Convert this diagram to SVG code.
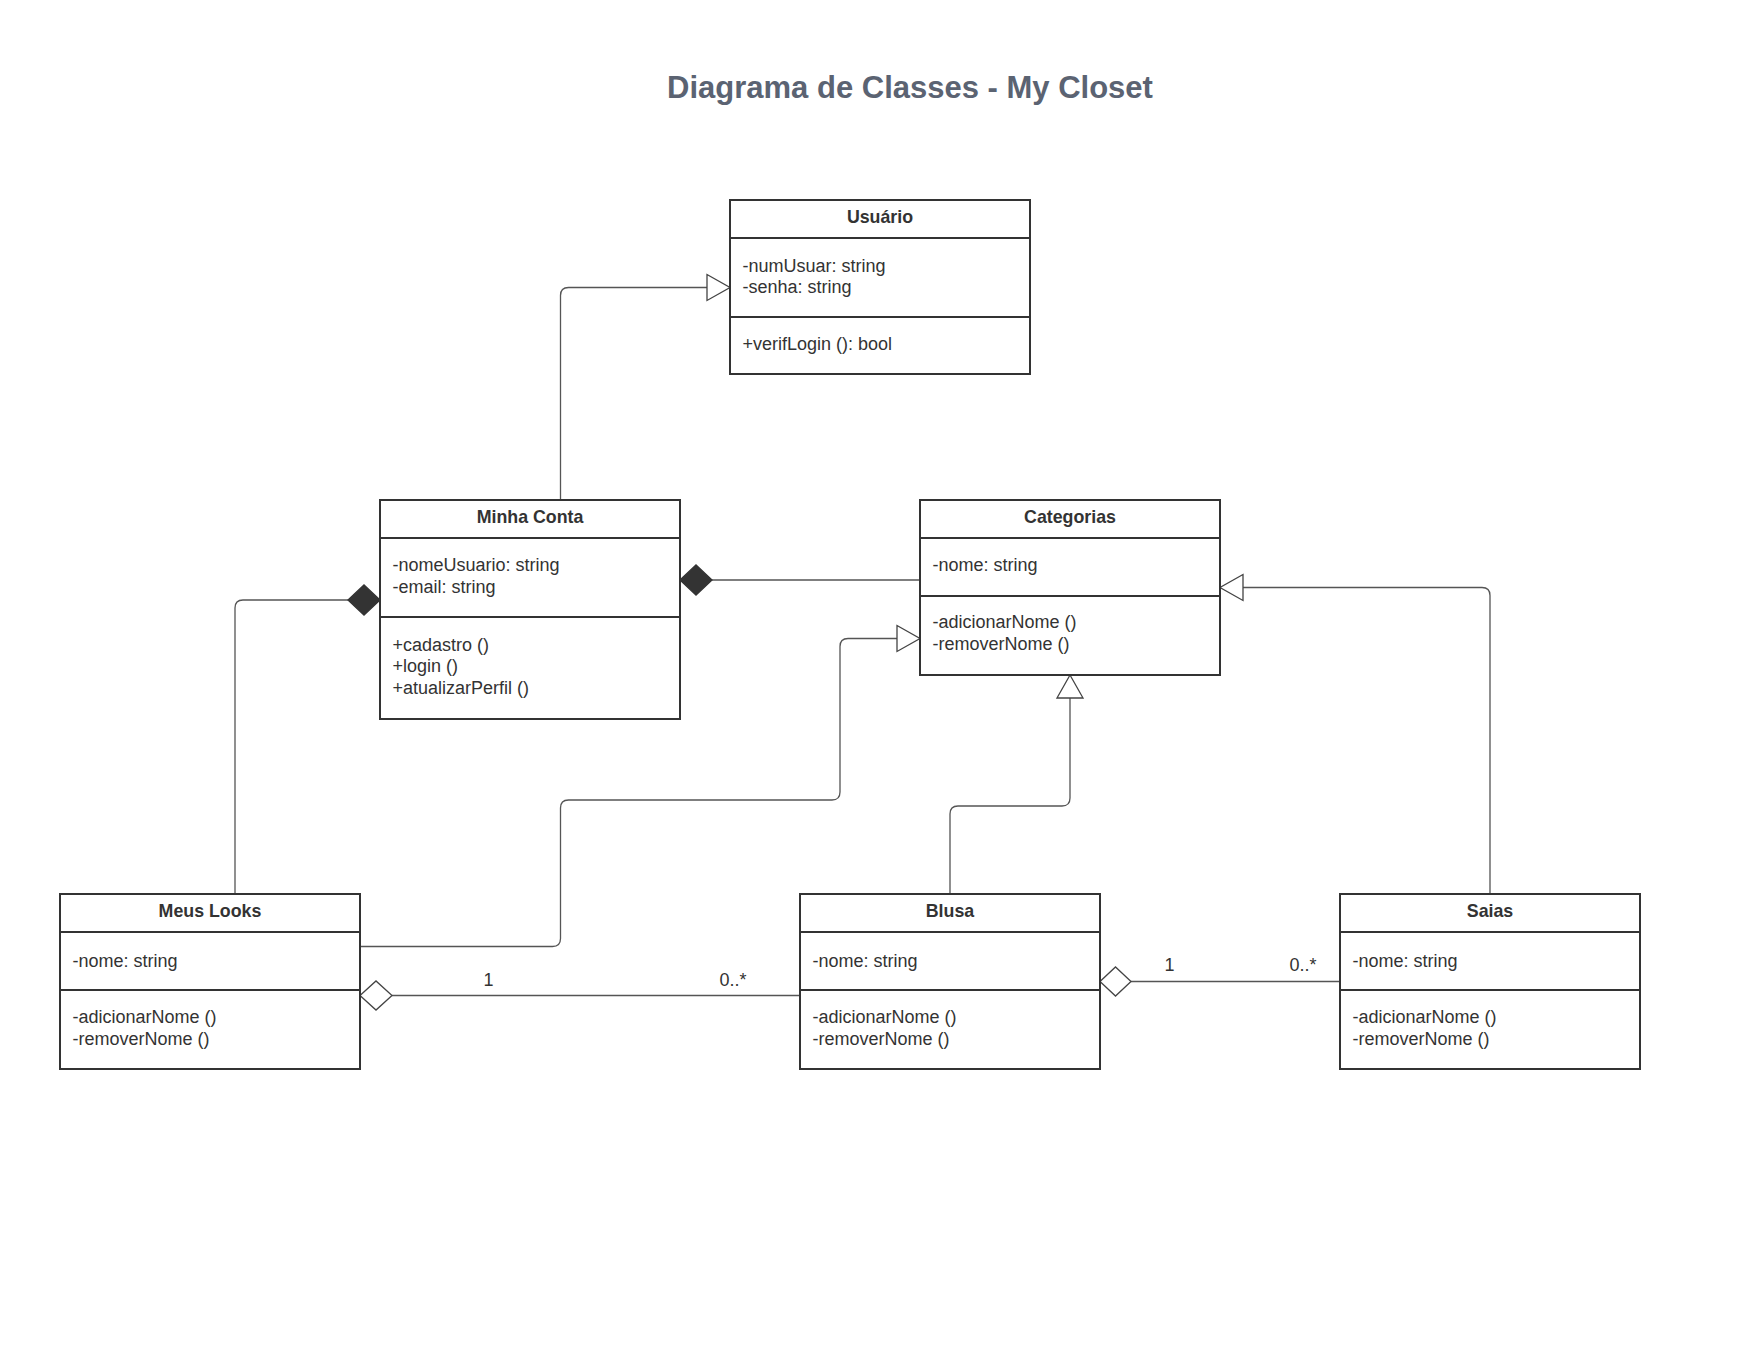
<svg xmlns="http://www.w3.org/2000/svg" width="1760" height="1360" viewBox="0 0 1760 1360">
<style>
.box{fill:#ffffff;stroke:#333333;stroke-width:2}
.div{stroke:#333333;stroke-width:2}
.t{font-family:"Liberation Sans",Arial,sans-serif;font-size:18px;fill:#333333}
.h{font-family:"Liberation Sans",Arial,sans-serif;font-size:17.8px;font-weight:bold;fill:#333333;text-anchor:middle}
.lbl{font-family:"Liberation Sans",Arial,sans-serif;font-size:18px;fill:#333333;text-anchor:middle}
.ln{fill:none;stroke:#555555;stroke-width:1.3}
.tri{fill:#ffffff;stroke:#444444;stroke-width:1.3}
.dfill{fill:#333333;stroke:#333333;stroke-width:1.3}
.dhol{fill:#ffffff;stroke:#444444;stroke-width:1.3}
.title{font-family:"Liberation Sans",Arial,sans-serif;font-size:31px;font-weight:bold;fill:#5b6372;text-anchor:middle}
</style>
<rect width="1760" height="1360" fill="#ffffff"/>
<text class="title" x="910" y="97.5">Diagrama de Classes - My Closet</text>

<g id="connectors">
  <!-- Minha Conta -> Usuario (generalization) -->
  <path class="ln" d="M560.5,500 V295.5 Q560.5,287.5 568.5,287.5 H707"/>
  <polygon class="tri" points="707,274.5 730,287.5 707,300.5"/>
  <!-- Minha Conta <>- Categorias (composition) -->
  <path class="ln" d="M712,580 H920"/>
  <polygon class="dfill" points="680,580 696,565 712,580 696,595"/>
  <!-- Minha Conta <>- Meus Looks (composition) -->
  <path class="ln" d="M235,894 V608 Q235,600 243,600 H348"/>
  <polygon class="dfill" points="380,600 364,585 348,600 364,615"/>
  <!-- Meus Looks -> Categorias (generalization) -->
  <path class="ln" d="M360,946.5 H552.5 Q560.5,946.5 560.5,938.5 V808 Q560.5,800 568.5,800 H832 Q840,800 840,792 V646.5 Q840,638.5 848,638.5 H897"/>
  <polygon class="tri" points="897,625.5 920,638.5 897,651.5"/>
  <!-- Blusa -> Categorias (generalization) -->
  <path class="ln" d="M950,894 V814 Q950,806 958,806 H1062 Q1070,806 1070,798 V698"/>
  <polygon class="tri" points="1057,698 1070,675 1083,698"/>
  <!-- Saias -> Categorias (generalization) -->
  <path class="ln" d="M1490,894 V595.5 Q1490,587.5 1482,587.5 H1243"/>
  <polygon class="tri" points="1243,574.5 1220,587.5 1243,600.5"/>
  <!-- Meus Looks <>- Blusa (aggregation) -->
  <path class="ln" d="M392,995.5 H800"/>
  <polygon class="dhol" points="360,995.5 376,981 392,995.5 376,1010"/>
  <text class="lbl" x="488.5" y="985.5">1</text>
  <text class="lbl" x="733" y="985.5">0..*</text>
  <!-- Blusa <>- Saias (aggregation) -->
  <path class="ln" d="M1131,981.5 H1340"/>
  <polygon class="dhol" points="1100,981.5 1115.5,967 1131,981.5 1115.5,996"/>
  <text class="lbl" x="1169.5" y="970.5">1</text>
  <text class="lbl" x="1303" y="970.5">0..*</text>
</g>

<g id="usuario">
  <rect class="box" x="730" y="200" width="300" height="174"/>
  <line class="div" x1="730" y1="238" x2="1030" y2="238"/>
  <line class="div" x1="730" y1="317" x2="1030" y2="317"/>
  <text class="h" x="880" y="223">Usuário</text>
  <text class="t" x="742.5" y="271.5">-numUsuar: string</text>
  <text class="t" x="742.5" y="293">-senha: string</text>
  <text class="t" x="742.5" y="350">+verifLogin (): bool</text>
</g>

<g id="minha-conta">
  <rect class="box" x="380" y="500" width="300" height="219"/>
  <line class="div" x1="380" y1="538" x2="680" y2="538"/>
  <line class="div" x1="380" y1="617" x2="680" y2="617"/>
  <text class="h" x="530" y="523">Minha Conta</text>
  <text class="t" x="392.5" y="571">-nomeUsuario: string</text>
  <text class="t" x="392.5" y="592.5">-email: string</text>
  <text class="t" x="392.5" y="650.5">+cadastro ()</text>
  <text class="t" x="392.5" y="672">+login ()</text>
  <text class="t" x="392.5" y="693.5">+atualizarPerfil ()</text>
</g>

<g id="categorias">
  <rect class="box" x="920" y="500" width="300" height="175"/>
  <line class="div" x1="920" y1="538" x2="1220" y2="538"/>
  <line class="div" x1="920" y1="596" x2="1220" y2="596"/>
  <text class="h" x="1070" y="523">Categorias</text>
  <text class="t" x="932.5" y="570.5">-nome: string</text>
  <text class="t" x="932.5" y="628">-adicionarNome ()</text>
  <text class="t" x="932.5" y="649.5">-removerNome ()</text>
</g>

<g id="meus-looks">
  <rect class="box" x="60" y="894" width="300" height="175"/>
  <line class="div" x1="60" y1="932" x2="360" y2="932"/>
  <line class="div" x1="60" y1="990" x2="360" y2="990"/>
  <text class="h" x="210" y="917">Meus Looks</text>
  <text class="t" x="72.5" y="966.5">-nome: string</text>
  <text class="t" x="72.5" y="1023">-adicionarNome ()</text>
  <text class="t" x="72.5" y="1044.5">-removerNome ()</text>
</g>

<g id="blusa">
  <rect class="box" x="800" y="894" width="300" height="175"/>
  <line class="div" x1="800" y1="932" x2="1100" y2="932"/>
  <line class="div" x1="800" y1="990" x2="1100" y2="990"/>
  <text class="h" x="950" y="917">Blusa</text>
  <text class="t" x="812.5" y="966.5">-nome: string</text>
  <text class="t" x="812.5" y="1023">-adicionarNome ()</text>
  <text class="t" x="812.5" y="1044.5">-removerNome ()</text>
</g>

<g id="saias">
  <rect class="box" x="1340" y="894" width="300" height="175"/>
  <line class="div" x1="1340" y1="932" x2="1640" y2="932"/>
  <line class="div" x1="1340" y1="990" x2="1640" y2="990"/>
  <text class="h" x="1490" y="917">Saias</text>
  <text class="t" x="1352.5" y="966.5">-nome: string</text>
  <text class="t" x="1352.5" y="1023">-adicionarNome ()</text>
  <text class="t" x="1352.5" y="1044.5">-removerNome ()</text>
</g>
</svg>
